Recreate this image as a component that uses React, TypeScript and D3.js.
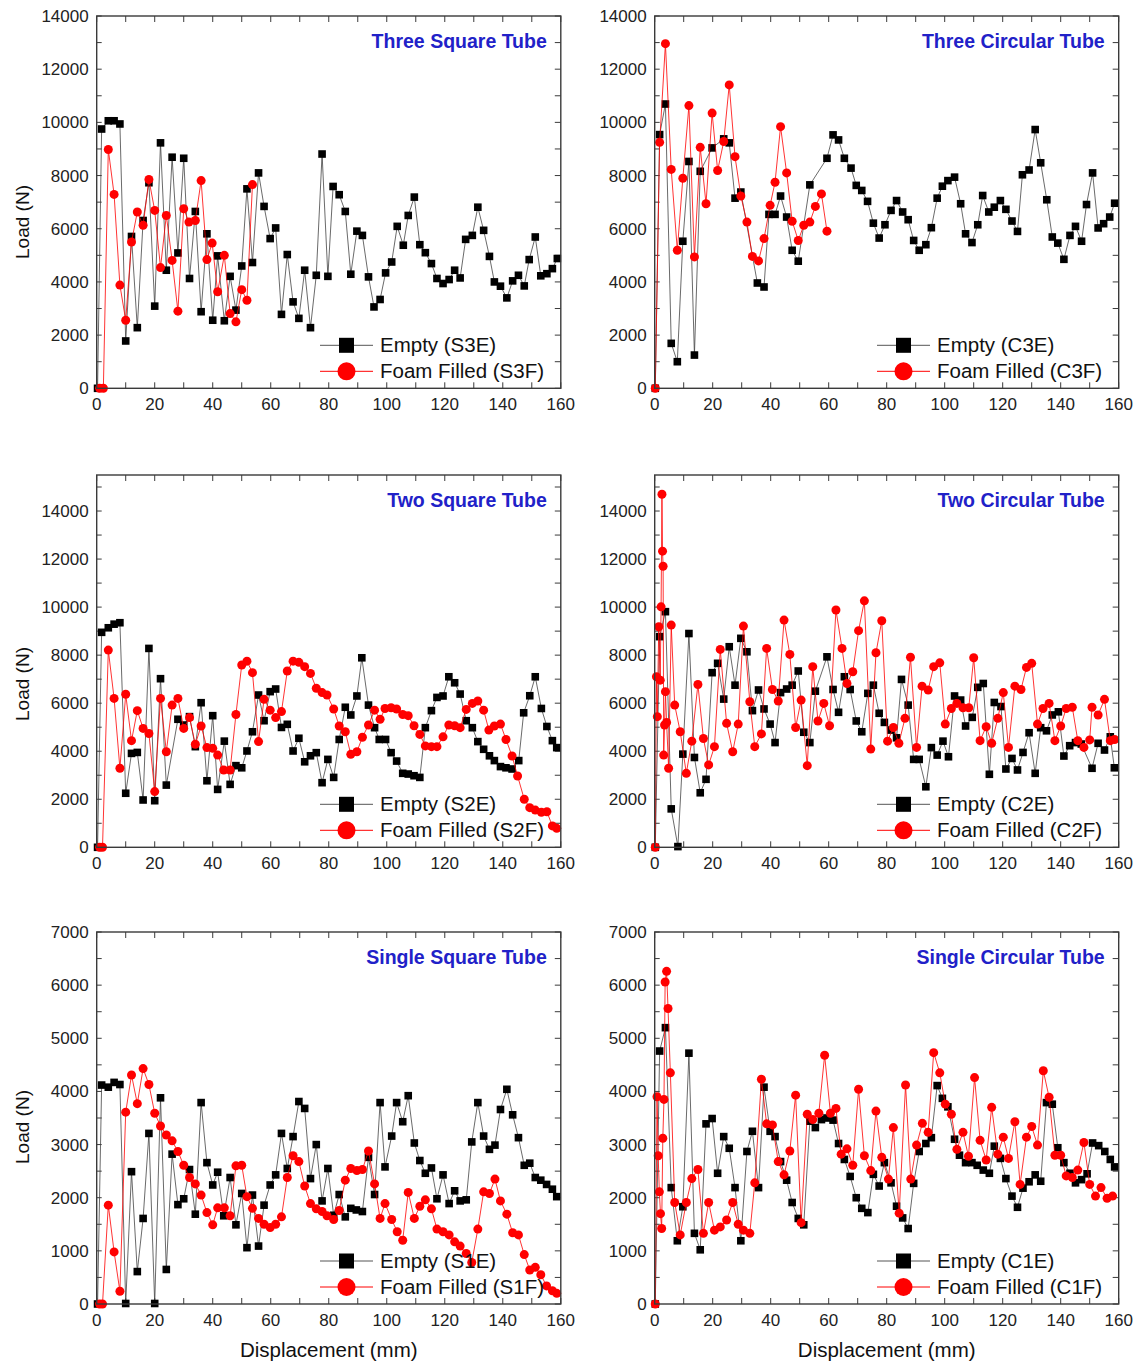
import React from 'react';
import * as d3 from 'd3';

type Pt = [number, number];

// ---------- data (displacement mm, load N) ----------
const s3eData: Pt[] = [[0.3,0],[1.7,9750],[4,10060],[6,10060],[8,9940],[10,1780],[12,5710],[14,2280],[16,6310],[18,7730],[20,3090],[22,9230],[24,4440],[26,8690],[28,5090],[30,8650],[32,4130],[34,6650],[36,2880],[38,5810],[40,2560],[41.7,4980],[44,2540],[46,4210],[48,2940],[50,4600],[51.8,7500],[53.7,4730],[55.8,8100],[57.7,6840],[59.8,5630],[61.7,6030],[63.7,2780],[65.7,5030],[67.7,3250],[69.7,2630],[71.7,4440],[73.7,2280],[75.7,4250],[77.7,8810],[79.7,4210],[81.5,7590],[83.6,7280],[85.7,6650],[87.6,4290],[89.7,5910],[91.6,5750],[93.7,4190],[95.6,3060],[97.7,3340],[99.6,4340],[101.7,4750],[103.6,6090],[105.7,5380],[107.4,6500],[109.5,7190],[111.4,5400],[113.3,5100],[115.4,4690],[117.3,4130],[119.4,3940],[121.5,4090],[123.4,4440],[125.3,4150],[127.2,5600],[129.5,5750],[131.4,6810],[133.4,5940],[135.4,4960],[137.1,4000],[139.2,3840],[141.4,3400],[143.4,4040],[145.4,4250],[147.4,3850],[149.1,4840],[151.2,5690],[153.1,4230],[155.2,4310],[157.1,4500],[158.8,4880]];
const s3fData: Pt[] = [[1,0],[2.3,0],[4,8980],[6,7290],[8,3880],[10,2560],[12,5500],[14,6630],[16,6130],[18,7850],[20,6690],[22,4540],[24,6500],[26,4810],[28,2900],[30,6750],[31.8,6250],[34,6310],[36,7810],[38,4840],[39.8,5460],[41.7,3630],[44,5000],[46,2810],[48,2500],[50,3710],[51.8,3310],[53.7,7660]];

const c3eData: Pt[] = [[0.2,0],[1.7,9540],[3.7,10690],[5.7,1690],[7.8,1000],[9.7,5530],[11.8,8530],[13.7,1250],[15.7,8160],[19.8,9040],[23.8,9380],[25.7,9230],[27.7,7150],[29.7,7380],[35.4,3960],[37.7,3810],[39.4,6540],[41.5,6540],[43.4,7230],[45.5,6440],[47.4,5190],[49.5,4780],[53.5,7650],[59.4,8650],[61.5,9530],[63.4,9340],[65.4,8650],[67.7,8280],[69.5,7630],[71.4,7440],[73.4,7030],[75.4,6210],[77.4,5650],[79.4,6150],[81.5,6690],[83.4,7060],[85.5,6630],[87.4,6340],[89.3,5560],[91.2,5190],[93.5,5400],[95.4,6040],[97.4,7150],[99.2,7600],[101.1,7810],[103.4,7940],[105.5,6940],[107.2,5810],[109.4,5480],[111.4,6150],[113.1,7250],[115.2,6630],[117.1,6810],[119.2,7060],[121.1,6730],[123.2,6290],[125.1,5900],[126.8,8030],[129.1,8210],[131.2,9730],[133.1,8480],[135.2,7090],[137.1,5690],[139,5460],[141.1,4850],[143.2,5750],[145.1,6090],[147.2,5530],[148.9,6910],[151,8100],[152.9,6030],[154.8,6190],[156.9,6440],[158.6,6960]];
const c3fData: Pt[] = [[0.2,0],[1.7,9250],[3.7,12960],[5.7,8230],[7.8,5190],[9.7,7900],[11.8,10630],[13.7,4940],[15.7,9060],[17.7,6940],[19.8,10350],[21.7,8190],[23.8,9280],[25.7,11410],[27.7,8710],[29.7,7230],[31.8,6250],[33.7,4960],[35.8,4790],[37.7,5630],[39.8,6880],[41.5,7750],[43.4,9840],[45.5,8100],[47.4,6280],[49.5,5560],[51.4,6130],[53.5,6250],[55.4,6840],[57.5,7310],[59.4,5910]];

const s2eData: Pt[] = [[0.3,0],[1.7,8950],[4,9140],[6,9290],[8,9350],[10,2250],[12,3910],[14,3950],[16,1970],[18,8280],[20,1940],[22,7020],[24,2590],[28,5330],[30,5090],[32,5440],[34,4190],[36,6020],[38,2770],[40,5480],[41.7,2410],[44,4420],[46,2620],[48,3400],[50,3310],[51.8,4010],[53.7,4810],[55.8,6340],[57.7,5270],[59.8,6480],[61.7,6590],[63.7,4990],[65.7,5120],[67.7,4010],[69.7,4540],[71.7,3560],[73.7,3810],[75.7,3940],[77.7,2690],[79.7,3660],[81.7,2910],[83.6,4490],[85.7,5830],[87.6,5510],[89.7,6300],[91.4,7890],[93.7,5920],[95.8,4980],[97.4,4490],[99.6,4490],[101.5,3940],[103.4,3590],[105.5,3080],[107.4,3050],[109.4,2980],[111.4,2910],[113.3,4980],[115.4,5690],[117.3,6240],[119.4,6300],[121.4,7100],[123.4,6850],[125.3,6380],[127.4,5270],[129.5,4980],[131.4,4400],[133.4,4080],[135.4,3810],[137.1,3610],[139.2,3360],[141.1,3310],[143.2,3260],[145.5,3610],[147.2,5600],[149.3,6310],[151.2,7100],[153.3,5780],[155.2,5030],[157.1,4440],[158.6,4150]];
const s2fData: Pt[] = [[1,0],[2,0],[4,8210],[6,6200],[8,3290],[10,6370],[12,4440],[14,5690],[16,4950],[18,4740],[20,2320],[22,6200],[24,3980],[26,5920],[28,6200],[30,4950],[32,5400],[34,4290],[36,5050],[38,4150],[40,4120],[41.7,3840],[43.8,3220],[46,3220],[48,5530],[50,7590],[51.8,7750],[53.7,7270],[55.8,4400],[57.7,6160],[59.8,5710],[61.7,5400],[63.7,5650],[65.7,7340],[67.7,7750],[69.7,7700],[71.7,7520],[73.7,7240],[75.7,6620],[77.7,6440],[79.4,6340],[81.7,5760],[83.6,5050],[85.7,4810],[87.6,3870],[89.7,3980],[91.6,4580],[93.7,5090],[95.8,5710],[97.7,5330],[99.4,5780],[101.5,5810],[103.4,5760],[105.5,5530],[107.4,5480],[109.4,5060],[111.4,4700],[113.3,4220],[115.4,4190],[117.3,4190],[119.4,4600],[121.4,5090],[123.4,5060],[125.3,4980],[127.4,5740],[129.5,5990],[131.4,6090],[133.4,5710],[135.2,4880],[137.1,5050],[139.2,5130],[141.1,4490],[143.2,3800],[145.1,2970],[147.4,2000],[149.3,1650],[151.2,1550],[153.3,1460],[155.2,1480],[157.1,890],[158.6,790]];

const c2eData: Pt[] = [[0.2,0],[1.7,8770],[3.7,9810],[5.7,1600],[8,30],[9.7,3880],[11.8,8900],[13.7,3740],[15.7,2270],[17.7,2830],[19.8,7270],[21.7,7660],[23.8,6170],[25.7,8350],[27.7,6750],[29.7,8700],[31.8,8140],[33.7,5690],[35.8,6550],[37.7,5760],[39.8,5130],[41.5,4360],[43.4,6440],[45.5,6590],[47.4,6750],[49.5,7340],[51.4,4790],[53.5,4360],[55.4,6500],[59.4,7930],[61.5,6570],[63.4,5620],[65.4,7100],[67.4,6570],[69.5,5260],[71.4,4810],[73.5,6410],[75.4,6750],[77.4,5580],[79.2,5200],[81.5,4880],[83.4,4560],[85.1,6990],[87.4,5920],[89.3,3660],[91.2,3660],[93.5,2520],[95.4,4150],[97.4,3840],[99.4,4420],[101.3,3770],[103.4,6300],[105.5,6130],[107.2,5050],[109.5,5410],[111.4,6660],[113.3,6820],[115.4,3040],[117.1,6030],[119.4,5860],[121.1,3260],[123.2,3700],[125.1,3220],[127,3950],[129.1,4770],[131.2,3080],[133.1,4980],[135.1,4850],[137.1,5510],[139.2,5640],[141.1,3800],[143.1,4230],[145.1,4360],[147.1,4300],[150.8,3290],[152.9,4330],[155.1,4050],[157.1,4600],[158.5,3310]];
const c2fData: Pt[] = [[0.2,0],[0.6,7100],[0.9,5440],[1.4,9180],[1.9,6960],[2.2,10010],[2.5,14700],[2.7,12330],[2.9,11700],[3.1,3840],[3.4,5090],[3.7,6480],[4.1,5200],[4.8,3290],[5.7,9250],[6.9,5920],[8.8,4810],[10.9,3080],[12.8,4420],[14.9,6780],[16.8,4530],[18.6,3430],[20.6,4190],[22.6,8240],[24.8,5160],[26.9,3980],[28.8,5130],[30.6,9210],[32.8,6060],[34.5,4190],[36.8,4720],[38.6,8280],[40.6,6570],[42.6,6090],[44.6,9460],[46.6,8030],[48.6,4990],[50.5,6130],[52.6,3400],[54.5,7520],[56.3,5260],[58.3,5990],[60.3,5060],[62.5,9880],[64.6,8280],[66.3,6820],[68.3,7310],[70.3,9020],[72.3,10260],[74.5,4090],[76.3,8100],[78.3,9430],[80.3,4420],[82.3,4990],[84.2,4330],[86.3,5370],[88.2,7910],[90.3,4160],[92.2,6710],[94.3,6550],[96.2,7520],[98.3,7680],[100.2,5130],[102.3,5780],[104.2,5990],[106.3,5810],[108.3,5810],[110,7890],[112.2,4440],[114.3,5020],[116.2,4330],[118.3,5370],[120.2,6440],[122,4160],[124.2,6710],[126.3,6570],[128.2,7490],[130,7660],[132,5130],[133.9,5780],[136,5990],[138,4440],[140,5050],[141.9,5780],[144,5830],[145.9,4440],[148,4160],[150,4470],[150.8,5830],[152.9,5510],[155.1,6160],[157.1,4440],[158.6,4490]];

const s1eData: Pt[] = [[0.3,0],[1.7,4120],[4,4080],[6,4170],[8,4130],[10,10],[12,2490],[14,610],[16,1610],[18,3210],[20,10],[22,3880],[24,650],[26,2820],[28,1870],[30,1980],[32,2530],[34,1690],[36,3790],[38,2660],[40,2240],[41.7,2480],[43.8,1660],[46,2380],[48,1490],[50,2080],[51.8,1060],[53.7,2050],[55.8,1090],[57.7,1860],[59.8,2240],[61.7,2430],[63.7,3210],[65.7,2550],[67.7,3150],[69.7,3810],[71.7,3680],[73.7,2360],[75.7,3000],[77.7,1940],[79.7,2550],[81.7,1670],[83.6,2060],[85.7,1640],[87.6,1800],[89.5,1770],[91.6,1740],[93.7,2760],[95.8,2060],[97.7,3790],[99.4,2580],[101.7,3160],[103.4,3790],[105.5,3430],[107.4,3920],[109.5,3030],[111.4,2700],[113.3,2460],[115.4,2560],[117.3,1980],[119.4,2430],[121.5,1890],[123.4,2130],[125.3,1940],[127.4,1960],[129.3,3050],[131.4,3790],[133.4,3160],[135.4,2910],[137.3,2990],[139.2,3660],[141.4,4040],[143.4,3560],[145.4,3130],[147.4,2610],[149.3,2650],[151.2,2380],[153.1,2330],[155.1,2250],[157.1,2160],[158.6,2020]];
const s1fData: Pt[] = [[1,0],[2,0],[4,1860],[6,980],[8,240],[10,3610],[12,4310],[14,3770],[16,4430],[18,4130],[20,3590],[22,3350],[24,3180],[26,3070],[28,2870],[30,2610],[32,2380],[34,2260],[36,2050],[38,1720],[40,1490],[41.7,1810],[44,1810],[46,1660],[48,2600],[50,2610],[51.8,2020],[53.7,1800],[55.8,1610],[57.7,1500],[59.8,1440],[61.7,1500],[63.7,1640],[65.7,2380],[67.7,2790],[69.7,2680],[71.7,2220],[73.7,1890],[75.7,1790],[77.7,1740],[79.4,1660],[81.7,1590],[83.6,1760],[85.7,2330],[87.6,2550],[89.7,2510],[91.6,2530],[93.7,2880],[95.8,2260],[97.7,1610],[99.4,1890],[101.7,1590],[103.6,1360],[105.5,1200],[107.4,2100],[109.5,1610],[111.4,1840],[113.3,1960],[115.4,1790],[117.3,1410],[119.4,1360],[121.5,1300],[123.4,1170],[125.3,1090],[127.4,950],[129.3,780],[131.4,1410],[133.4,2110],[135.4,2080],[137.3,2350],[139.2,1940],[141.4,1690],[143.4,1340],[145.4,1300],[147.4,930],[149.3,640],[151.2,690],[153.1,550],[155.1,340],[157.1,250],[158.6,200]];

const c1eData: Pt[] = [[0.2,0],[1.7,4760],[3.7,5200],[5.7,2190],[7.8,1190],[9.7,1830],[11.8,4720],[13.7,1330],[15.7,1020],[17.7,3390],[19.8,3490],[21.7,2460],[23.8,3150],[25.7,2930],[27.7,2190],[29.7,1190],[31.8,2870],[33.7,3250],[35.8,2190],[37.7,4080],[39.8,3250],[41.5,3150],[43.4,2680],[45.5,2330],[47.4,1910],[49.5,1610],[51.4,1490],[53.5,3440],[55.4,3320],[57.5,3470],[59.4,3500],[61.5,3460],[63.4,3020],[65.4,2720],[67.4,2400],[69.5,2000],[71.4,1800],[73.5,1720],[75.4,2440],[77.4,2220],[79.2,2660],[81.5,2280],[83.4,1840],[85.5,1620],[87.4,1420],[89.3,2270],[91.2,2870],[93.5,3020],[95.4,3130],[97.4,4110],[99.2,3870],[101.1,3710],[103.4,3100],[105.1,2800],[107.2,2660],[109.4,2660],[111.2,2610],[113.3,2520],[115.4,2460],[117.1,2970],[119.2,2740],[121.1,2360],[123.2,2030],[125.1,1820],[127,2180],[129.1,2300],[131.2,2430],[133.1,2310],[135.1,3790],[137.1,3760],[139,2940],[141.1,2660],[143.2,2460],[145.1,2280],[147.2,2340],[149.1,2450],[151,3030],[153.1,2980],[155.2,2870],[157.1,2720],[158.6,2580]];
const c1fData: Pt[] = [[0.2,0],[0.8,3900],[1.2,2790],[1.6,2110],[2.0,1700],[2.4,1420],[2.8,3120],[3.2,3850],[3.6,6060],[4.1,6260],[4.6,5560],[5.4,4350],[6.9,1910],[8.8,1300],[10.9,1910],[12.8,2360],[14.9,2530],[16.8,1330],[18.6,1910],[20.6,1390],[22.6,1450],[24.8,1580],[26.9,1910],[28.8,1500],[30.6,1390],[32.8,1330],[34.5,2280],[36.8,4230],[38.6,3390],[40.6,3370],[42.6,2680],[44.6,2430],[46.6,2880],[48.6,3930],[50.5,1530],[52.6,3570],[54.5,3470],[56.6,3590],[58.6,4680],[60.6,3590],[62.5,3680],[64.3,2820],[66.3,2920],[68.3,2610],[70.3,4040],[72.3,2790],[74.5,2510],[76.3,3630],[78.3,2760],[80.6,2350],[82.3,3320],[84.3,1710],[86.5,4120],[88.3,2350],[90.3,2990],[92.3,3400],[94.3,3230],[96.2,4730],[98.3,4350],[100.2,3760],[102.3,3570],[104.2,2910],[106.3,3230],[108.2,2780],[110.3,4260],[112.2,3080],[114.3,2710],[116.2,3700],[118.3,2820],[120.2,3140],[122,2740],[124.2,3430],[126,2250],[128.2,3140],[130,3340],[132,2990],[134,4390],[136,3890],[138,2800],[140,2800],[141.9,2410],[144,2380],[145.9,2520],[148,3040],[150,2250],[152,2030],[153.9,2190],[156,1990],[157.9,2030]];

const panelTitles = ['Three Square Tube', 'Three Circular Tube', 'Two Square Tube', 'Two Circular Tube', 'Single Square Tube', 'Single Circular Tube'];
const emptyLabels = ['Empty (S3E)', 'Empty (C3E)', 'Empty (S2E)', 'Empty (C2E)', 'Empty (S1E)', 'Empty (C1E)'];
const foamLabels = ['Foam Filled (S3F)', 'Foam Filled (C3F)', 'Foam Filled (S2F)', 'Foam Filled (C2F)', 'Foam Filled (S1F)', 'Foam Filled (C1F)'];
const emptySeries = [s3eData, c3eData, s2eData, c2eData, s1eData, c1eData];
const foamSeries = [s3fData, c3fData, s2fData, c2fData, s1fData, c1fData];
const rowYMax = [14000, 15500, 7000];
const rowYLabelMax = [14000, 14000, 7000];
const rowYMajor = [2000, 2000, 1000];
const xTickLabels = [0, 20, 40, 60, 80, 100, 120, 140, 160];

// ---------- layout ----------
const colX: [number, number][] = [[96.7, 560.8], [654.7, 1118.7]];
const rowY: [number, number][] = [[16, 388.3], [475, 847.3], [932, 1304]];
const loadLabelY = [222, 684, 1127];
const FONT = "'Liberation Sans', Arial, Helvetica, sans-serif";
const TITLE_BLUE = '#2121c8';
const RED = '#ff0000';

function Panel({ idx }: { idx: number }) {
  const col = idx % 2;
  const row = Math.floor(idx / 2);
  const [x0, x1] = colX[col];
  const [yTop, yBot] = rowY[row];
  const x = d3.scaleLinear().domain([0, 160]).range([x0, x1]);
  const y = d3.scaleLinear().domain([0, rowYMax[row]]).range([yBot, yTop]);
  const line = d3.line<Pt>().x(d => x(d[0])).y(d => y(d[1]));
  const major = rowYMajor[row];
  const yMajorTicks = d3.range(0, rowYLabelMax[row] + 1, major);
  const yMinorTicks = d3.range(0, rowYMax[row] + 1, major / 2);
  const xMinor = d3.range(0, 161, 10);
  const tk = 6;
  const frame = '#3a3a3a';
  const empty = emptySeries[idx];
  const foam = foamSeries[idx];
  const legX = col === 0 ? 320 : 877;
  const legMid = legX + 26.5;
  const legEnd = legX + 53;
  const legTextX = legX + 60;
  const legY1 = yBot - 43;
  const legY2 = yBot - 17;
  const sq = 7.6;
  return (
    <g>
      {/* ticks */}
      {xMinor.map(v => (
        <g key={'xt' + v}>
          <line x1={x(v)} x2={x(v)} y1={yBot} y2={yBot - tk} stroke={frame} strokeWidth={1} />
          <line x1={x(v)} x2={x(v)} y1={yTop} y2={yTop + tk} stroke={frame} strokeWidth={1} />
        </g>
      ))}
      {yMinorTicks.map(v => (
        <g key={'yt' + v}>
          <line x1={x0} x2={x0 + 5} y1={y(v)} y2={y(v)} stroke={frame} strokeWidth={1} />
          <line x1={x1} x2={x1 - 6} y1={y(v)} y2={y(v)} stroke={frame} strokeWidth={1} />
        </g>
      ))}
      {/* tick labels */}
      {yMajorTicks.map(v => (
        <text key={'yl' + v} x={x0 - 8} y={y(v)} dy="0.35em" textAnchor="end" fontSize={17} fontFamily={FONT} fill="#222">{v}</text>
      ))}
      {xTickLabels.map(v => (
        <text key={'xl' + v} x={x(v)} y={yBot + 22} textAnchor="middle" fontSize={17} fontFamily={FONT} fill="#222">{v}</text>
      ))}
      {/* series */}
      <path d={line(empty) || ''} fill="none" stroke="#444" strokeWidth={0.8} />
      {empty.map((d, i) => (
        <rect key={'e' + i} x={x(d[0]) - sq / 2} y={y(d[1]) - sq / 2} width={sq} height={sq} fill="#000" />
      ))}
      <path d={line(foam) || ''} fill="none" stroke={RED} strokeWidth={0.8} />
      {foam.map((d, i) => (
        <circle key={'f' + i} cx={x(d[0])} cy={y(d[1])} r={4.5} fill={RED} />
      ))}
      {/* frame */}
      <rect x={x0} y={yTop} width={x1 - x0} height={yBot - yTop} fill="none" stroke={frame} strokeWidth={1.4} />
      {/* title */}
      <text x={x1 - 14} y={yTop + 32} textAnchor="end" fontSize={19.5} fontWeight="bold" fontFamily={FONT} fill={TITLE_BLUE}>{panelTitles[idx]}</text>
      {/* legend */}
      <line x1={legX} x2={legEnd} y1={legY1} y2={legY1} stroke="#555" strokeWidth={1} />
      <rect x={legMid - 7.5} y={legY1 - 7.5} width={15} height={15} fill="#000" />
      <text x={legTextX} y={legY1} dy="0.35em" fontSize={20.5} fontFamily={FONT} fill="#111">{emptyLabels[idx]}</text>
      <line x1={legX} x2={legEnd} y1={legY2} y2={legY2} stroke={RED} strokeWidth={1} />
      <circle cx={legMid} cy={legY2} r={9} fill={RED} />
      <text x={legTextX} y={legY2} dy="0.35em" fontSize={20.5} fontFamily={FONT} fill="#111">{foamLabels[idx]}</text>
      {/* axis titles */}
      {col === 0 && (
        <text transform={`translate(22,${loadLabelY[row]}) rotate(-90)`} textAnchor="middle" dy="0.35em" fontSize={19} fontFamily={FONT} fill="#111">Load (N)</text>
      )}
      {row === 2 && (
        <text x={(x0 + x1) / 2} y={1357} textAnchor="middle" fontSize={20.5} fontFamily={FONT} fill="#111">Displacement (mm)</text>
      )}
    </g>
  );
}

export default function App() {
  return (
    <svg width={1140} height={1362} style={{ position: 'absolute', left: 0, top: 0, background: '#fff' }}>
      <rect width={1140} height={1362} fill="#fff" />
      {[0, 1, 2, 3, 4, 5].map(i => <Panel key={i} idx={i} />)}
    </svg>
  );
}
